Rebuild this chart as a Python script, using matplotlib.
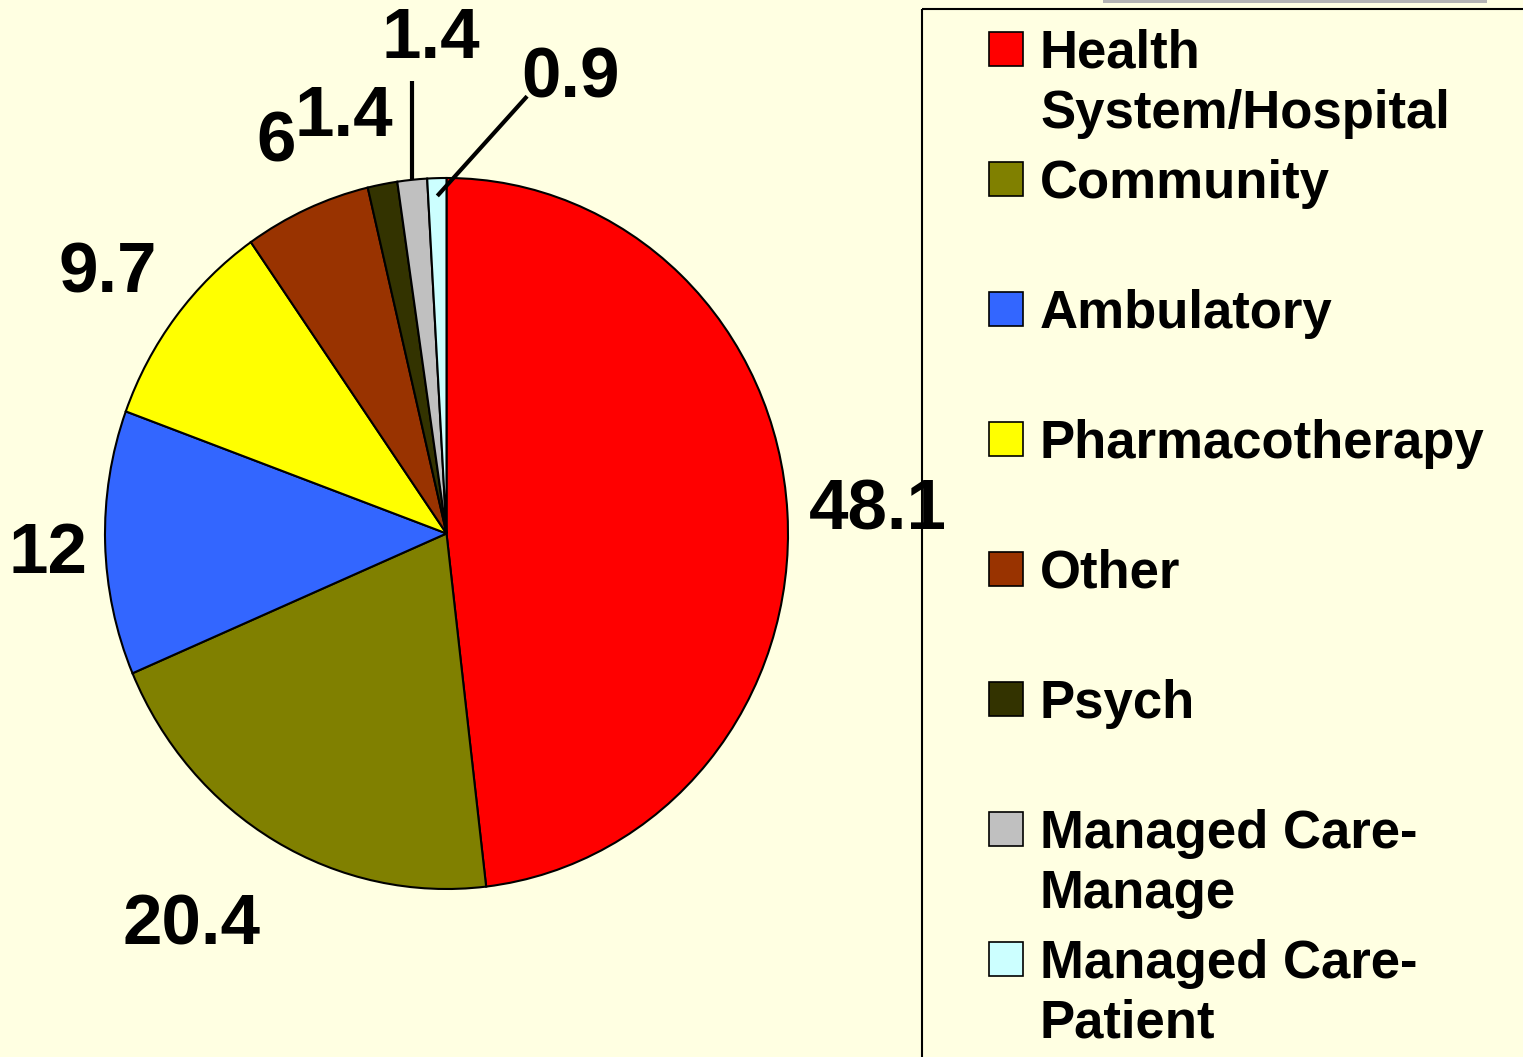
import numpy as np
import matplotlib
matplotlib.use("Agg")
import matplotlib.pyplot as plt
from matplotlib.patches import Rectangle

# ---------------- data ----------------
categories = ["Health\nSystem/Hospital", "Community", "Ambulatory", "Pharmacotherapy",
              "Other", "Psych", "Managed Care-\nManage", "Managed Care-\nPatient"]
values = [48.1, 20.4, 12, 9.7, 6, 1.4, 1.4, 0.9]
value_labels = ["48.1", "20.4", "12", "9.7", "6", "1.4", "1.4", "0.9"]
colors = ["#FF0000", "#808000", "#3366FF", "#FFFF00", "#993300", "#333300", "#C0C0C0", "#CCFFFF"]

# ---------------- layout ----------------
W, H = 1523, 1057
BG = "#FFFFE2"
FONT = "Liberation Sans"
# label anchor (center x, baseline y) in pie data units
label_pos = [(1.262, 0.010), (-0.747, -1.156), (-1.168, -0.111), (-0.993, 0.678),
             (-0.498, 1.047), (-0.300, 1.117), (-0.045, 1.337), (0.362, 1.227)]
# leader lines: index -> (start radius, end point)
leaders = {6: (1.0, None, 1.272), 7: (0.95, 0.236, 1.230)}

plt.rcParams['font.family'] = [FONT, 'DejaVu Sans']
fig = plt.figure(figsize=(W / 100, H / 100), dpi=100, facecolor=BG)

# pie axes (elliptical, like the reference)
cx, cy, rx, ry = 446.5, 533.5, 341.5, 355.5
ax = fig.add_axes([(cx - rx) / W, (H - (cy + ry)) / H, 2 * rx / W, 2 * ry / H])
ax.set_facecolor(BG)
wedges, _ = ax.pie(values, colors=colors, startangle=90, counterclock=False,
                   wedgeprops=dict(edgecolor="black", linewidth=1.5))
ax.set_aspect("auto")
ax.set_xlim(-1, 1)
ax.set_ylim(-1, 1)
ax.axis("off")

for lab, (x, y) in zip(value_labels, label_pos):
    ax.text(x, y, lab, ha="center", va="baseline", fontsize=51, fontweight="bold",
            color="black", clip_on=False)

for i, (r0, ex, ey) in leaders.items():
    w = wedges[i]
    mid = np.deg2rad((w.theta1 + w.theta2) / 2)
    x0, y0 = r0 * np.cos(mid), r0 * np.sin(mid)
    x1 = x0 if ex is None else ex
    ax.plot([x0, x1], [y0, ey], color="black", linewidth=3, clip_on=False,
            solid_capstyle="butt")

# overlay axes in pixel coordinates for legend
ov = fig.add_axes([0, 0, 1, 1])
ov.set_xlim(0, W)
ov.set_ylim(H, 0)
ov.axis("off")
ov.patch.set_alpha(0)

# top grey bar
ov.add_patch(Rectangle((1103, 0), 384, 2.5, facecolor="#B4B4B4", edgecolor="none"))
# legend frame
ov.add_patch(Rectangle((922, 9), 800, 1200, facecolor="none", edgecolor="black", linewidth=1.5))

base0, step, line_gap = 68, 130, 60
for i, (cat, col) in enumerate(zip(categories, colors)):
    b = base0 + i * step
    ov.add_patch(Rectangle((989, b - 36), 34, 34, facecolor=col, edgecolor="black", linewidth=1.2))
    for k, line in enumerate(cat.split("\n")):
        ov.text(1040, b + k * line_gap, line, ha="left", va="baseline", fontsize=38,
                fontweight="bold", color="black")

fig.savefig("out.png", dpi=100, facecolor=BG)
